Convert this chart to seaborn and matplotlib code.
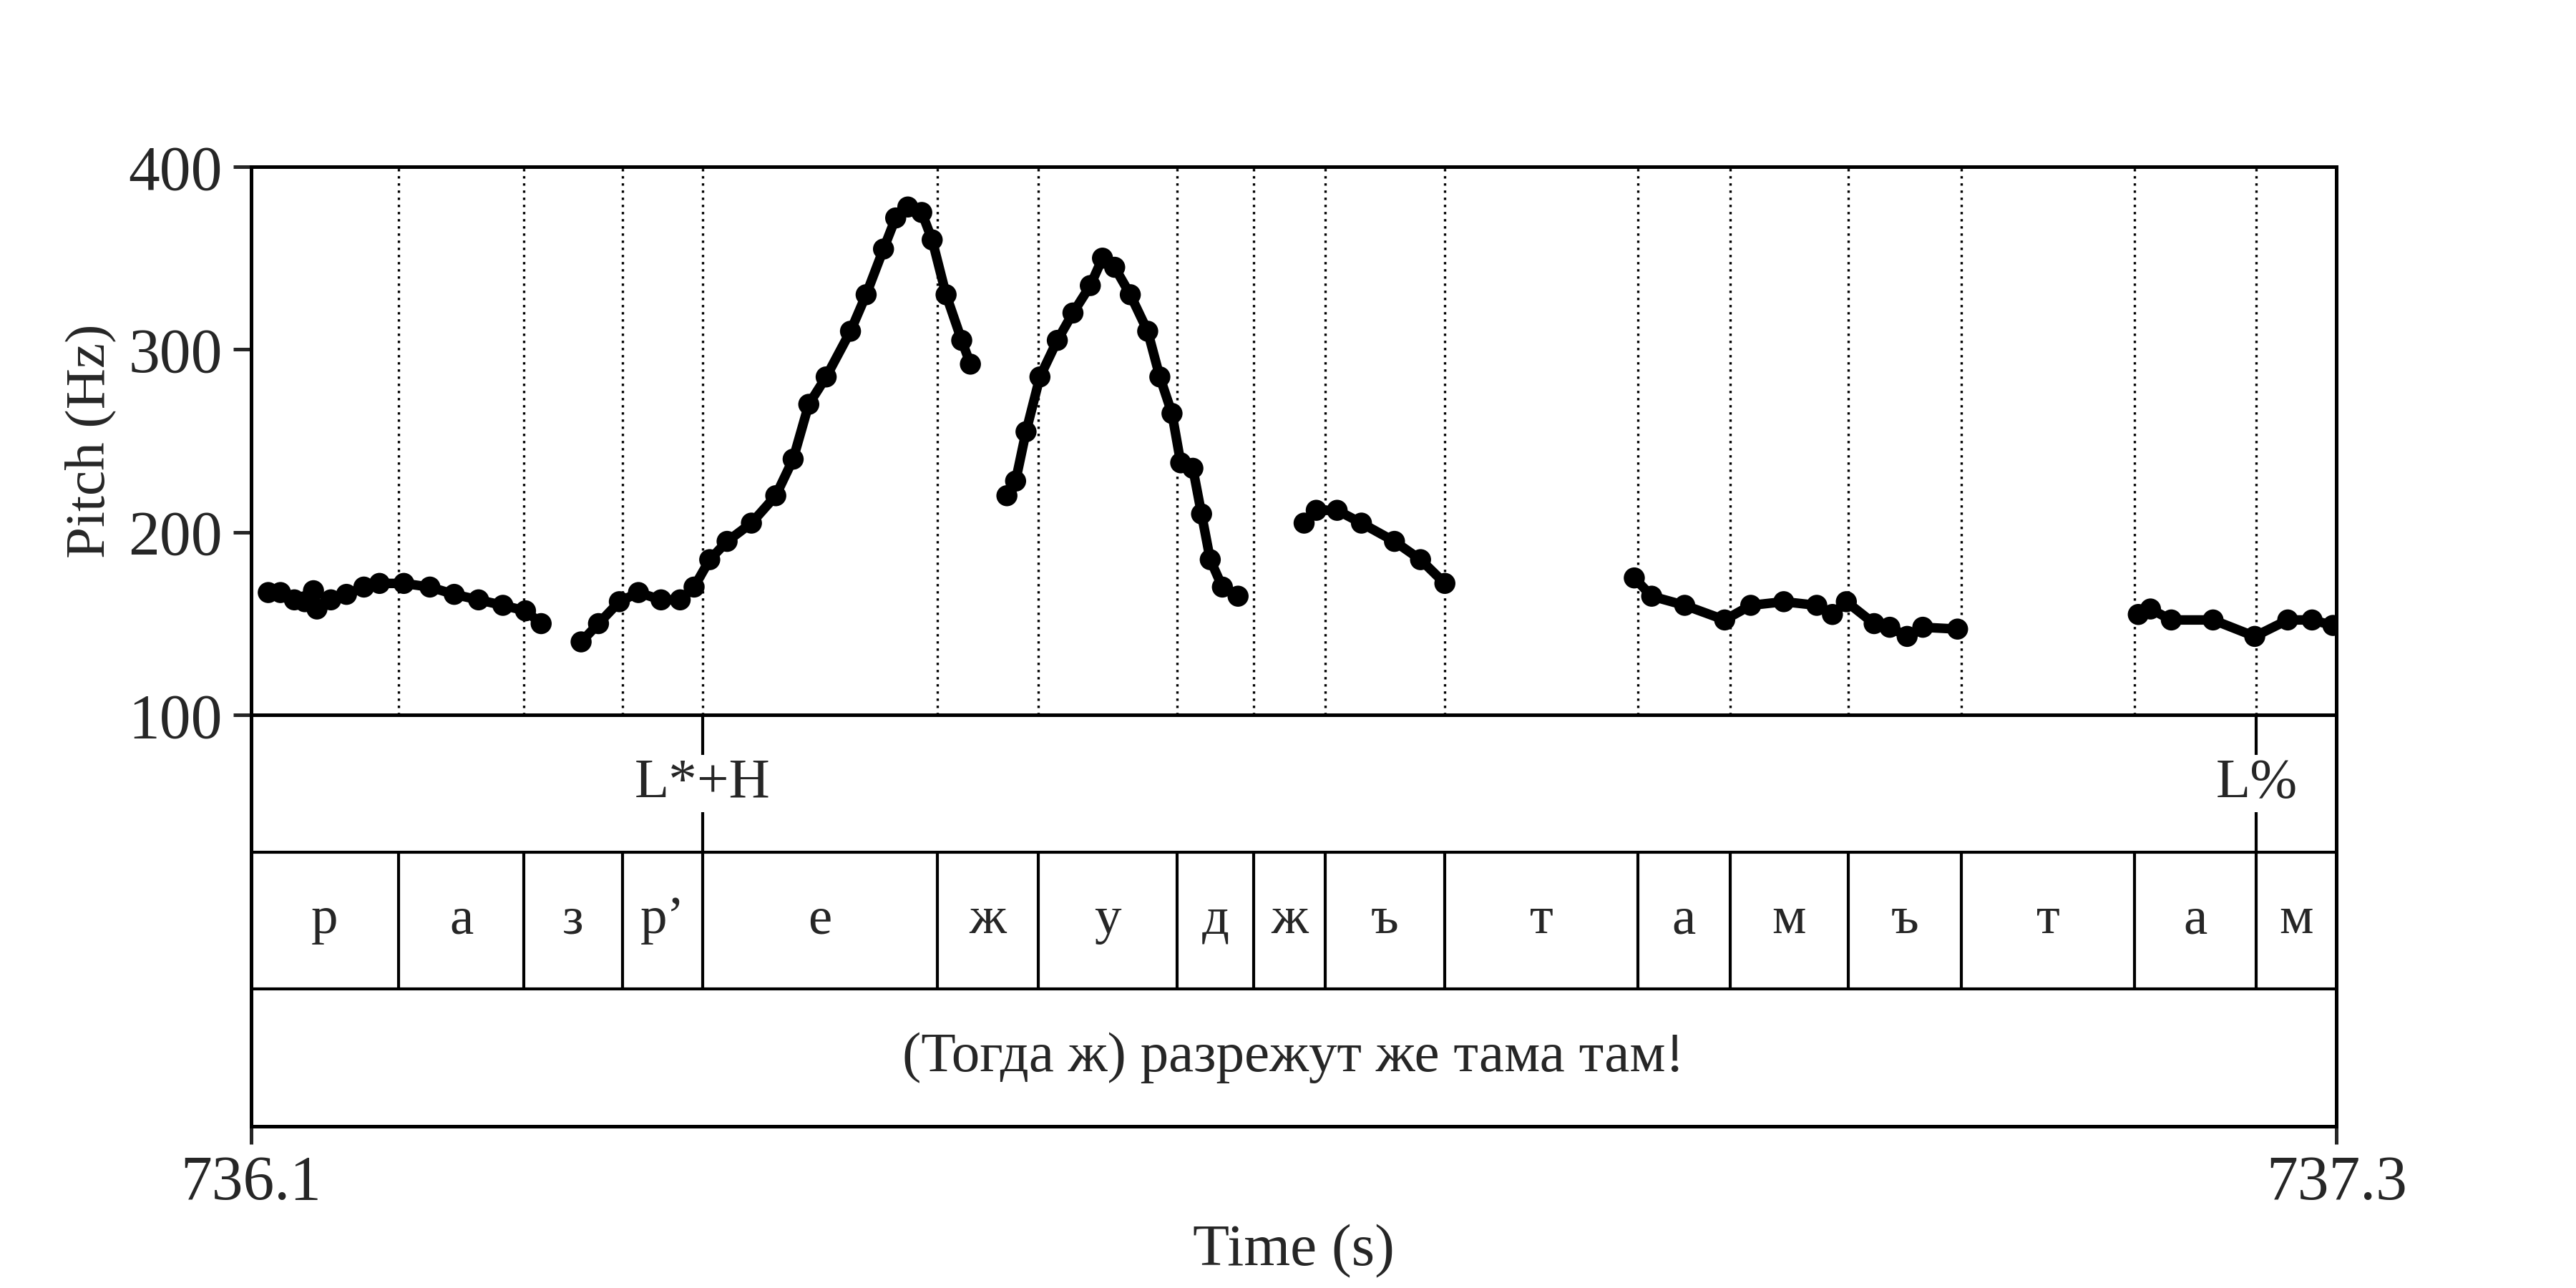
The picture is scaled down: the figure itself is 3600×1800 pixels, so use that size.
import matplotlib
matplotlib.use("Agg")
import matplotlib.pyplot as plt
import seaborn as sns
import pandas as pd

# pitch track, one list per voiced stretch
seg_id = []
times = []
pitch = []
stretches = [
    ([736.110, 736.117, 736.125, 736.131, 736.136, 736.138, 736.146, 736.155, 736.165, 736.174,
      736.188, 736.203, 736.217, 736.231, 736.245, 736.258, 736.267],
     [167, 167, 163, 162, 168, 158, 163, 166, 170, 172, 172, 170, 166, 163, 160, 157, 150]),
    ([736.290, 736.300, 736.312, 736.323, 736.336, 736.347, 736.355, 736.364, 736.374, 736.388,
      736.402, 736.412, 736.421, 736.431, 736.445, 736.454, 736.464, 736.471, 736.478, 736.486,
      736.492, 736.500, 736.509, 736.514],
     [140, 150, 162, 167, 163, 163, 170, 185, 195, 205, 220, 240, 270, 285, 310, 330, 355, 372,
      378, 375, 360, 330, 305, 292]),
    ([736.535, 736.540, 736.546, 736.554, 736.564, 736.573, 736.583, 736.590, 736.597, 736.606,
      736.616, 736.623, 736.630, 736.635, 736.642, 736.647, 736.652, 736.659, 736.668],
     [220, 228, 255, 285, 305, 320, 335, 350, 345, 330, 310, 285, 265, 238, 235, 210, 185, 170, 165]),
    ([736.706, 736.713, 736.725, 736.739, 736.758, 736.773, 736.787],
     [205, 212, 212, 205, 195, 185, 172]),
    ([736.896, 736.906, 736.925, 736.948, 736.963, 736.982, 737.001, 737.010, 737.018, 737.034,
      737.043, 737.053, 737.062, 737.082],
     [175, 165, 160, 152, 160, 162, 160, 155, 162, 150, 148, 143, 148, 147]),
    ([737.186, 737.193, 737.205, 737.229, 737.253, 737.272, 737.286, 737.298],
     [155, 158, 152, 152, 143, 152, 152, 149]),
]
for i, (t, p) in enumerate(stretches):
    seg_id += [i] * len(t)
    times += t
    pitch += p
df = pd.DataFrame({"seg": seg_id, "time": times, "pitch": pitch})

bounds = [736.185, 736.257, 736.314, 736.360, 736.495, 736.553, 736.633, 736.677, 736.718,
          736.787, 736.898, 736.951, 737.019, 737.084, 737.184, 737.254]
phones = ["р", "а", "з", "р’", "е", "ж", "у", "д", "ж", "ъ", "т", "а", "м", "ъ", "т", "а", "м"]
tones = ["L*+H", "L%"]
tone_times = [736.360, 737.254]
sentence = "(Тогда ж) разрежут же тама там!"
t0, t1 = 736.1, 737.3

sns.set_theme(style="white")
plt.rcParams["font.family"] = ["Liberation Serif", "DejaVu Serif"]

fig = plt.figure(figsize=(12, 6), dpi=300)
ax = fig.add_axes([0.0974, 0.4449, 0.8096, 0.4256])
tx = fig.add_axes([0.0974, 0.1256, 0.8096, 0.3193])

for s, g in df.groupby("seg"):
    ax.plot(g["time"], g["pitch"], color="black", lw=3.2, solid_capstyle="round", zorder=2)
sns.scatterplot(data=df, x="time", y="pitch", color="black", s=50, edgecolor="none", ax=ax, zorder=3)
for b in bounds:
    ax.axvline(b, color="black", ls=(0, (1, 2)), lw=0.8, zorder=1)
ax.set_xlim(t0, t1)
ax.set_ylim(100, 400)
ax.set_yticks([100, 200, 300, 400])
ax.set_xticks([])
ax.set_xlabel("")
ax.set_ylabel("Pitch (Hz)", fontsize=19)
ax.tick_params(axis="y", labelsize=21, direction="out", length=6, width=1.2, left=True)
for sp in ax.spines.values():
    sp.set_color("black")
    sp.set_linewidth(1.2)

tx.set_xlim(t0, t1)
tx.set_ylim(0, 3)
for y in [1, 2]:
    tx.axhline(y, color="black", lw=1)
edges = [t0] + bounds + [t1]
for b in bounds:
    tx.plot([b, b], [1, 2], color="black", lw=1)
for lab, a, b in zip(phones, edges[:-1], edges[1:]):
    tx.text((a + b) / 2, 1.5, lab, ha="center", va="center", fontsize=18)
for lab, t in zip(tones, tone_times):
    tx.plot([t, t], [2, 3], color="black", lw=1)
    tx.text(t, 2.5, lab, ha="center", va="center", fontsize=19,
            bbox=dict(facecolor="white", edgecolor="none", pad=1))
tx.text((t0 + t1) / 2, 0.5, sentence, ha="center", va="center", fontsize=19)
tx.set_yticks([])
tx.set_xticks([t0, t1])
tx.set_xticklabels(["736.1", "737.3"])
tx.tick_params(axis="x", labelsize=21, direction="out", length=6, width=1.2, bottom=True)
tx.set_xlabel("Time (s)", fontsize=20)
for sp in tx.spines.values():
    sp.set_color("black")
    sp.set_linewidth(1.2)

fig.savefig("out.png", dpi=300, facecolor="white")
